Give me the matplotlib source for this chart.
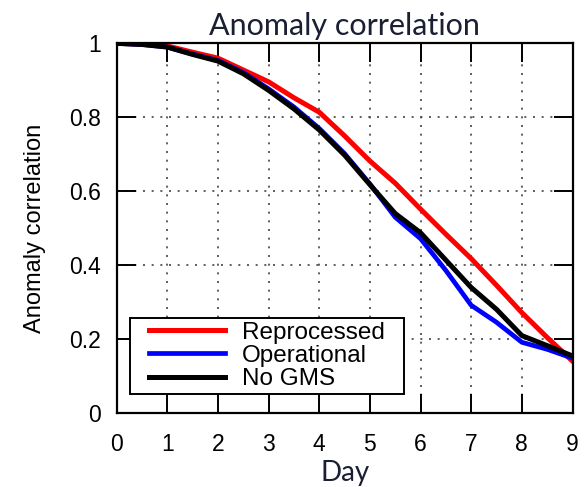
import numpy as np
import matplotlib
matplotlib.use('Agg')
import matplotlib.pyplot as plt
from matplotlib.patches import Rectangle

# forecast day
days = [0, 0.5, 1, 1.5, 2, 2.5, 3, 3.5, 4, 4.5, 5, 5.5, 6, 6.5, 7, 7.5, 8, 8.5, 9]

# anomaly correlation for each experiment
reprocessed = [1.0, 0.998, 0.993, 0.976, 0.960, 0.928, 0.896, 0.853, 0.814, 0.750,
               0.682, 0.622, 0.552, 0.484, 0.418, 0.346, 0.272, 0.205, 0.141]
operational = [1.0, 0.997, 0.990, 0.971, 0.954, 0.921, 0.877, 0.828, 0.770, 0.702,
               0.620, 0.530, 0.472, 0.386, 0.292, 0.246, 0.192, 0.173, 0.149]
no_gms = [1.0, 0.997, 0.990, 0.970, 0.952, 0.918, 0.873, 0.823, 0.766, 0.698,
          0.618, 0.540, 0.488, 0.414, 0.340, 0.281, 0.210, 0.183, 0.155]

xticks = [0, 1, 2, 3, 4, 5, 6, 7, 8, 9]
yticks = [0, 0.2, 0.4, 0.6, 0.8, 1]
ytick_labels = ['0', '0.2', '0.4', '0.6', '0.8', '1']

plt.rcParams['font.family'] = ['Liberation Sans', 'DejaVu Sans']

fig = plt.figure(figsize=(5.86, 4.87), dpi=100)
ax = fig.add_axes([0.199, 0.1513, 0.778, 0.7597])

ax.plot(days, reprocessed, color='#ff0000', lw=3.6, label='Reprocessed')
ax.plot(days, operational, color='#0000ff', lw=3.4, label='Operational')
ax.plot(days, no_gms, color='black', lw=3.6, label='No GMS')

ax.set_xlim(0, 9)
ax.set_ylim(0, 1)
ax.set_xticks(xticks)
ax.set_yticks(yticks)
ax.set_yticklabels(ytick_labels)
ax.tick_params(direction='in', length=14, width=1.4, labelsize=16.5,
               top=True, right=True)
ax.tick_params(axis='x', pad=14)
ax.tick_params(axis='y', pad=11)
ax.grid(True, color='#444444', linestyle=(0, (1.2, 4)), linewidth=1.2)
for s in ax.spines.values():
    s.set_linewidth(1.6)

ax.set_ylabel('Anomaly correlation', fontsize=17, labelpad=17)
ax.set_xlabel('Day', fontsize=20, family=['Lato', 'DejaVu Sans'],
              color='#1a1f33', labelpad=3)
ax.set_title('Anomaly correlation', fontsize=22, family=['Lato', 'DejaVu Sans'],
             color='#1a1f33', pad=6)

# legend box drawn by hand: wide side padding, almost none top and bottom
ax.add_patch(Rectangle((0.029, 0.052), 0.601, 0.206, transform=ax.transAxes,
                       facecolor='white', edgecolor='black', lw=1.4, zorder=4))
leg = ax.legend(loc='center', bbox_to_anchor=(0.3295, 0.155), fontsize=17.5,
                frameon=False, handlelength=3.1, handletextpad=0.7,
                labelspacing=0.05, borderpad=0, borderaxespad=0)
leg.set_zorder(5)

plt.savefig('out.png', dpi=100)
